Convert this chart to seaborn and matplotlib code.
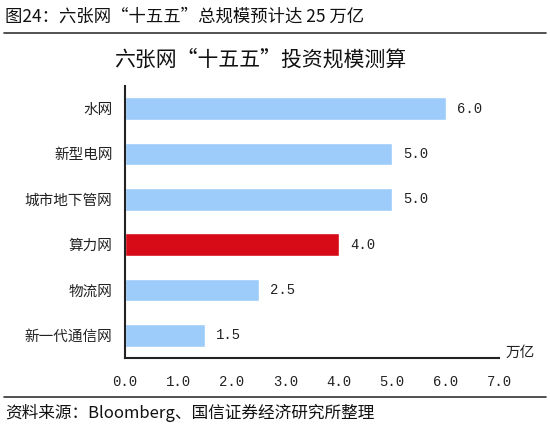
import pandas as pd
import seaborn as sns
import matplotlib.pyplot as plt
from matplotlib.lines import Line2D
from matplotlib.ticker import MultipleLocator

categories = ["水网", "新型电网", "城市地下管网", "算力网", "物流网", "新一代通信网"]
values = [6.0, 5.0, 5.0, 4.0, 2.5, 1.5]
highlight = "算力网"
x_ticks = [0, 1, 2, 3, 4, 5, 6, 7]

df = pd.DataFrame({"网络": categories, "规模": values})
df["组"] = ["重点" if c == highlight else "其他" for c in categories]

sns.set_style("white")
plt.rcParams["font.family"] = ["Noto Sans CJK SC", "DejaVu Sans"]

fig = plt.figure(figsize=(5.5, 4.28), dpi=100)
ax = fig.add_axes([0.2273, 0.1636, 0.68, 0.6355])

sns.barplot(
    data=df, y="网络", x="规模", hue="组", orient="h",
    palette={"其他": "#9DCBFA", "重点": "#D70A17"},
    width=0.5, dodge=False, legend=False, saturation=1, ax=ax,
)

ax.set_xlim(0, 7)
ax.set_ylim(len(categories) - 0.5, -0.5)
ax.set_xticks(x_ticks)
ax.set_xticklabels([f"{t:.1f}" for t in x_ticks], family="Liberation Mono", fontsize=10, color="#222222")
ax.tick_params(axis="x", direction="in", length=5, width=1.2, color="#222222", pad=12)
ax.set_yticks(range(len(categories)))
ax.set_yticklabels(categories, fontsize=10.5, color="#222222")
ax.tick_params(axis="y", which="major", length=0, pad=9)
ax.yaxis.set_minor_locator(MultipleLocator(1, offset=0.5))
ax.tick_params(axis="y", which="minor", direction="in", length=5, width=1.2, color="#222222")
ax.set_xlabel("")
ax.set_ylabel("")

for s in ["top", "right"]:
    ax.spines[s].set_visible(False)
for s in ["left", "bottom"]:
    ax.spines[s].set_linewidth(1.5)
    ax.spines[s].set_color("#222222")

for i, v in enumerate(values):
    ax.annotate(f"{v:.1f}", (v, i), xytext=(8, 0), textcoords="offset points",
                va="center", ha="left", family="Liberation Mono", fontsize=10, color="#222222")

ax.annotate("万亿", (7, 0), xycoords=("data", "axes fraction"), xytext=(5, 4),
            textcoords="offset points", ha="left", va="center", fontsize=10.5, color="#222222")

fig.text(0.009, 0.962, "图24：六张网“十五五”总规模预计达 25 万亿", fontsize=12.5,
         va="center", ha="left", color="#111111")
fig.add_artist(Line2D([0.007, 0.993], [0.922, 0.922], color="#333333", lw=1.2))
fig.text(0.473, 0.86, "六张网“十五五”投资规模测算", fontsize=15, va="center", ha="center", color="#111111")
fig.add_artist(Line2D([0.007, 0.993], [0.072, 0.072], color="#333333", lw=1.2))
fig.text(0.009, 0.035, "资料来源：Bloomberg、国信证券经济研究所整理", fontsize=12,
         va="center", ha="left", color="#111111")

fig.savefig("out.png", dpi=100)
